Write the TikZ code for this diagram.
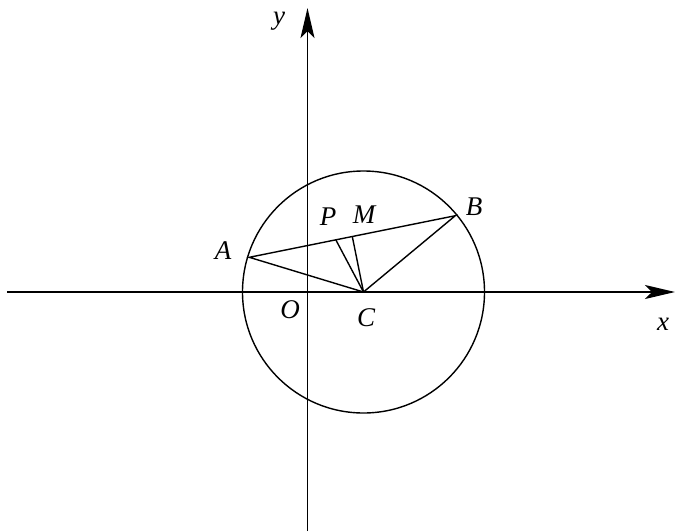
\documentclass[tikz,border=0pt]{standalone}
\usepackage{fontspec}
\setmainfont{Liberation Serif}
\usetikzlibrary{arrows.meta,calc}
\begin{document}
\begin{tikzpicture}[x=1pt,y=-1pt,
  line width=1.4pt,
  lbl/.style={font=\fontsize{27}{29}\selectfont\itshape, inner sep=0pt},
  axis/.style={-{Stealth[length=30pt,width=14pt,inset=7pt]}}]
\useasboundingbox (0,0) rectangle (677,531);
% axes
\coordinate (xs) at (7,292);
\coordinate (xe) at (675,292);
\coordinate (ys) at (307.5,531);
\coordinate (ye) at (307.5,8);
\draw[axis] (xs) -- (xe);
\draw[axis] (ys) -- (ye);
% points
\coordinate (C) at (363.5,292);
\coordinate (A) at (249.3,257.3);
\coordinate (B) at (455.3,215.7);
\coordinate (M) at ($(A)!0.5!(B)$);
\coordinate (P) at ($(A)!0.42!(B)$);
% circle
\draw (C) circle[radius=121];
% segments
\draw (A) -- (B) -- (C) -- cycle;
\draw (C) -- (M);
\draw (C) -- (P);
% labels
\node[lbl] (lA) at (223,251) {A};
\node[lbl] (lB) at (474,207) {B};
\node[lbl] (lP) at (328,217) {P};
\node[lbl] (lM) at (364,215) {M};
\node[lbl] (lO) at (290,310) {O};
\node[lbl] (lC) at (366,318) {C};
\node[lbl] (lx) at (663,324) {x};
\node[lbl] (ly) at (279,21) {y};
\end{tikzpicture}
\end{document}
